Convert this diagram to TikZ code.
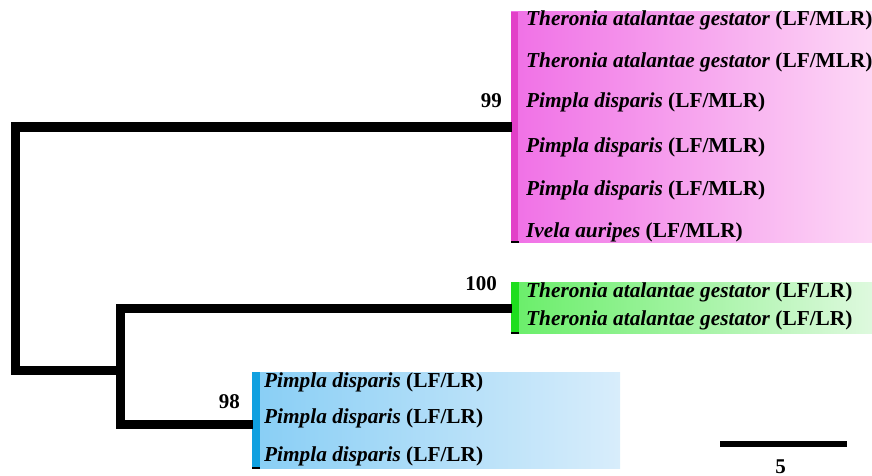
\documentclass[tikz,border=0pt]{standalone}
\usepackage{fontspec}
\setmainfont{Liberation Serif}
\usetikzlibrary{calc}

\definecolor{pinkL}{RGB}{240,112,230}
\definecolor{pinkR}{RGB}{253,216,246}
\definecolor{pinkbar}{RGB}{226,64,200}
\definecolor{greenL}{RGB}{105,238,105}
\definecolor{greenR}{RGB}{222,249,222}
\definecolor{greenbar}{RGB}{30,222,30}
\definecolor{blueL}{RGB}{136,206,245}
\definecolor{blueR}{RGB}{216,237,251}
\definecolor{bluebar}{RGB}{16,160,224}

\tikzset{
  branch/.style={line width=9pt, line join=miter},
  taxon/.style={anchor=base west, inner sep=0pt, font=\fontsize{21.3}{22}\selectfont\bfseries},
  support/.style={anchor=base east, inner sep=0pt, font=\fontsize{21}{22}\selectfont\bfseries},
}

\begin{document}
\begin{tikzpicture}[x=1pt,y=-1pt]
				\useasboundingbox (0,0) rectangle (872,476);
				
				% clade boxes
				\shade[left color=pinkL, right color=pinkR] (511,12) rectangle (872,242);
				\fill[pinkbar] (511,12) rectangle (518,242);
				\draw[line width=1.5pt] (511,242) -- (519,242);
				\shade[left color=greenL, right color=greenR] (511,282) rectangle (872,333);
				\fill[greenbar] (511,282) rectangle (519,333);
				\draw[line width=1.5pt] (511,333) -- (519,333);
				\shade[left color=blueL, right color=blueR] (252,372) rectangle (620,468);
				\fill[bluebar] (252,372) rectangle (260,468);
				\draw[line width=1.5pt] (252,468) -- (260,468);
				
				% tree
				\coordinate (root) at (15,370);
				\coordinate (inner) at (120,370);
				\coordinate (cladeA) at (512,127);
				\coordinate (cladeB) at (512,308);
				\coordinate (cladeC) at (253,424);
				\draw[branch] (cladeA) -| (root) -- (inner);
				\draw[branch] (cladeB) -| (inner |- cladeC) -- (cladeC);
				
				\node[support] (bsA) at (502,107) {99};
				\node[support] (bsB) at (497,290) {100};
				\node[support] (bsC) at (240,408) {98};
				
				\node[taxon] (tA1) at (526,26)  {\textit{Theronia atalantae gestator} (LF/MLR)};
				\node[taxon] (tA2) at (526,68)  {\textit{Theronia atalantae gestator} (LF/MLR)};
				\node[taxon] (tA3) at (526,107) {\textit{Pimpla disparis} (LF/MLR)};
				\node[taxon] (tA4) at (526,152) {\textit{Pimpla disparis} (LF/MLR)};
				\node[taxon] (tA5) at (526,195) {\textit{Pimpla disparis} (LF/MLR)};
				\node[taxon] (tA6) at (526,237) {\textit{Ivela auripes} (LF/MLR)};
				
				\node[taxon] (tB1) at (526,297) {\textit{Theronia atalantae gestator} (LF/LR)};
				\node[taxon] (tB2) at (526,325) {\textit{Theronia atalantae gestator} (LF/LR)};
				
				\node[taxon] (tC1) at (264,387) {\textit{Pimpla disparis} (LF/LR)};
				\node[taxon] (tC2) at (264,423) {\textit{Pimpla disparis} (LF/LR)};
				\node[taxon] (tC3) at (264,461) {\textit{Pimpla disparis} (LF/LR)};
				
				% scale bar
				\coordinate (sbL) at (720,444);
				\coordinate (sbR) at (847,444);
				\draw[line width=6pt] (sbL) -- (sbR);
				\node[support, anchor=base] (sb) at ($(sbL)!0.5!(sbR)+(-3,29)$) {5};
\end{tikzpicture}
\end{document}
